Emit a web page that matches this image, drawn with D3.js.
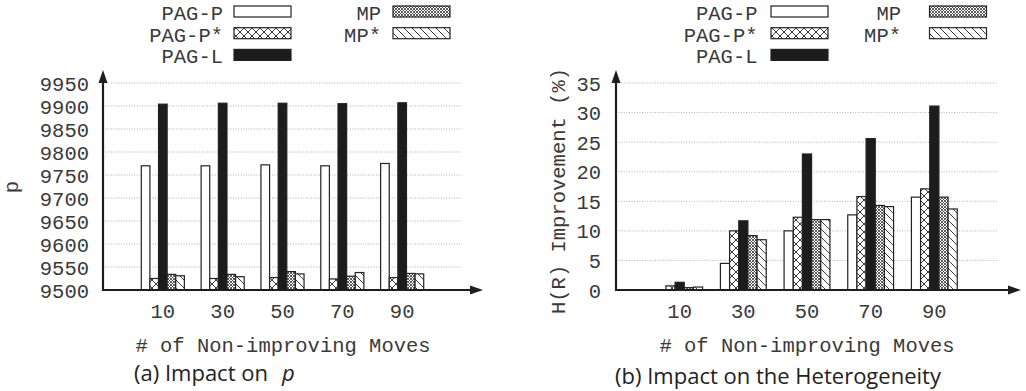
<!DOCTYPE html>
<html>
<head>
<meta charset="utf-8">
<script src="https://cdn.jsdelivr.net/npm/d3@7"></script>
<style>
  html, body { margin: 0; padding: 0; background: #fff; }
  svg { display: block; }
  .mono { font-family: "Liberation Mono", "Courier New", monospace; fill: #3a3a3a; }
  .cap { font-family: "Open Sans", sans-serif; fill: #222; }
</style>
</head>
<body>
<svg id="chart" width="1026" height="391"></svg>
<script>
// Categories: number of non-improving moves
const categories = ["10", "30", "50", "70", "90"];
const seriesNames = ["PAG-P", "PAG-P*", "PAG-L", "MP", "MP*"];

// (a) p values
const pagP_p     = [9770, 9770, 9772, 9770, 9775];
const pagPStar_p = [9525, 9525, 9527, 9524, 9527];
const pagL_p     = [9904, 9906, 9906, 9905, 9907];
const mp_p       = [9534, 9534, 9540, 9530, 9536];
const mpStar_p   = [9531, 9529, 9535, 9538, 9535];

// (b) H(R) improvement in percent
const pagP_h     = [0, 4.5, 10.0, 12.7, 15.7];
const pagPStar_h = [0.7, 10.0, 12.3, 15.8, 17.1];
const pagL_h     = [1.3, 11.7, 23.0, 25.6, 31.1];
const mp_h       = [0.4, 9.2, 11.9, 14.3, 15.7];
const mpStar_h   = [0.5, 8.5, 11.9, 14.1, 13.7];

// Tick values
const pTicks = [9500, 9550, 9600, 9650, 9700, 9750, 9800, 9850, 9900, 9950];
const hTicks = [0, 5, 10, 15, 20, 25, 30, 35];

const svg = d3.select("#chart");

// Fill patterns for the five series
const defs = svg.append("defs");
function pattern(id, size, draw) {
  const p = defs.append("pattern").attr("id", id)
    .attr("patternUnits", "userSpaceOnUse")
    .attr("width", size).attr("height", size);
  p.append("rect").attr("width", size).attr("height", size).attr("fill", "#fff");
  draw(p, size);
}
pattern("pat-cross", 8, (p, s) => p.append("path")
  .attr("d", `M0,0L${s},${s}M${s},0L0,${s}`)
  .attr("stroke", "#222").attr("stroke-width", 0.9));
pattern("pat-mesh", 3, (p, s) => p.append("path")
  .attr("d", `M0,0L${s},${s}M${s},0L0,${s}`)
  .attr("stroke", "#333").attr("stroke-width", 0.8));
pattern("pat-back", 8, (p, s) => p.append("path")
  .attr("d", `M0,0L${s},${s}M-2,${s - 2}L2,${s + 2}M${s - 2},-2L${s + 2},2`)
  .attr("stroke", "#222").attr("stroke-width", 0.9));

const fills = {
  "PAG-P": "#fff",
  "PAG-P*": "url(#pat-cross)",
  "PAG-L": "#1c1c1c",
  "MP": "url(#pat-mesh)",
  "MP*": "url(#pat-back)"
};

const FS = 20.5;

function drawPanel(cfg) {
  const g = svg.append("g");
  const x = d3.scaleLinear().domain([-1, categories.length]).range([cfg.x0, cfg.gridEnd]);
  const y = d3.scaleLinear().domain(cfg.yDomain).range([290, 83]);
  const step = x(1) - x(0);
  const inner = d3.scaleBand().domain(seriesNames).range([-0.36 * step, 0.36 * step]);

  // dotted grid
  g.append("g").selectAll("line").data(cfg.ticks.slice(1)).join("line")
    .attr("x1", cfg.x0).attr("x2", cfg.gridEnd)
    .attr("y1", d => y(d)).attr("y2", d => y(d))
    .attr("stroke", "#9a9a9a").attr("stroke-width", 0.8)
    .attr("stroke-dasharray", "1,1.6");

  // y tick labels
  g.append("g").selectAll("text").data(cfg.ticks).join("text")
    .attr("class", "mono").attr("font-size", FS)
    .attr("text-anchor", "end")
    .attr("x", cfg.tickLabelX).attr("y", d => y(d) + 7.5)
    .text(d => d);

  // bars
  const rows = [];
  categories.forEach((c, i) => {
    seriesNames.forEach((s, j) => rows.push({ i, s, v: cfg.values[j][i] }));
  });
  g.append("g").selectAll("rect").data(rows).join("rect")
    .attr("x", d => x(d.i) + inner(d.s))
    .attr("width", inner.bandwidth())
    .attr("y", d => y(d.v))
    .attr("height", d => y(cfg.yDomain[0]) - y(d.v))
    .attr("fill", d => fills[d.s])
    .attr("stroke", "#222").attr("stroke-width", 1.2);

  // x tick labels
  g.append("g").selectAll("text").data(categories).join("text")
    .attr("class", "mono").attr("font-size", FS)
    .attr("text-anchor", "middle")
    .attr("x", (d, i) => x(i)).attr("y", 317.5)
    .text(d => d);

  // axes with arrowheads
  const ax = g.append("g").attr("stroke", "#1e1e1e").attr("fill", "#1e1e1e");
  ax.append("line").attr("x1", cfg.x0).attr("x2", cfg.x0)
    .attr("y1", 291).attr("y2", 80).attr("stroke-width", 2.2);
  ax.append("path").attr("stroke", "none")
    .attr("d", `M${cfg.x0},70L${cfg.x0 - 4.5},83L${cfg.x0 + 4.5},83Z`);
  ax.append("line").attr("x1", cfg.x0 - 1).attr("x2", cfg.arrowX - 10)
    .attr("y1", 290).attr("y2", 290).attr("stroke-width", 2.2);
  ax.append("path").attr("stroke", "none")
    .attr("d", `M${cfg.arrowX},290L${cfg.arrowX - 13},285.5L${cfg.arrowX - 13},294.5Z`);

  // axis titles
  g.append("text").attr("class", "mono").attr("font-size", FS)
    .attr("text-anchor", "middle")
    .attr("x", cfg.xTitleX).attr("y", 352)
    .text("# of Non-improving Moves");
  g.append("text").attr("class", "mono").attr("font-size", FS)
    .attr("text-anchor", "middle")
    .attr("transform", `translate(${cfg.yTitleX},${cfg.yTitleY}) rotate(-90)`)
    .text(cfg.yTitle);

  // legend
  const leg = g.append("g");
  const legendItems = [
    { s: "PAG-P", col: 0, row: 0 }, { s: "PAG-P*", col: 0, row: 1 }, { s: "PAG-L", col: 0, row: 2 },
    { s: "MP", col: 1, row: 0 }, { s: "MP*", col: 1, row: 1 }
  ];
  legendItems.forEach(it => {
    const top = 6 + it.row * 21.7;
    leg.append("text").attr("class", "mono").attr("font-size", FS)
      .attr("text-anchor", "end")
      .attr("x", cfg.legText[it.col]).attr("y", top + 14)
      .text(it.s);
    leg.append("rect")
      .attr("x", cfg.legBox[it.col]).attr("y", top)
      .attr("width", 57).attr("height", 11)
      .attr("fill", fills[it.s]).attr("stroke", "#222").attr("stroke-width", 1.2);
  });

  // caption
  const cap = g.append("text").attr("class", "cap").attr("font-size", 22)
    .attr("text-anchor", cfg.capAnchor)
    .attr("x", cfg.capX).attr("y", cfg.capY);
  cap.append("tspan").text(cfg.caption);
  if (cfg.captionItalic) {
    cap.append("tspan").attr("font-style", "italic").attr("dx", 14).text(cfg.captionItalic);
  }
}

drawPanel({
  x0: 103, gridEnd: 462, arrowX: 483,
  yDomain: [9500, 9950], ticks: pTicks, tickLabelX: 89,
  values: [pagP_p, pagPStar_p, pagL_p, mp_p, mpStar_p],
  xTitleX: 283, yTitleX: 18, yTitleY: 187, yTitle: "p",
  legText: [223, 381], legBox: [234, 393],
  capAnchor: "start", capX: 134, capY: 381, caption: "(a) Impact on", captionItalic: "p"
});

drawPanel({
  x0: 616, gridEnd: 998, arrowX: 1021,
  yDomain: [0, 35], ticks: hTicks, tickLabelX: 601,
  values: [pagP_h, pagPStar_h, pagL_h, mp_h, mpStar_h],
  xTitleX: 807, yTitleX: 565, yTitleY: 191, yTitle: "H(R) Improvement (%)",
  legText: [757.5, 901], legBox: [771, 929.5],
  capAnchor: "middle", capX: 778, capY: 384, caption: "(b) Impact on the Heterogeneity", captionItalic: null
});
</script>
</body>
</html>
